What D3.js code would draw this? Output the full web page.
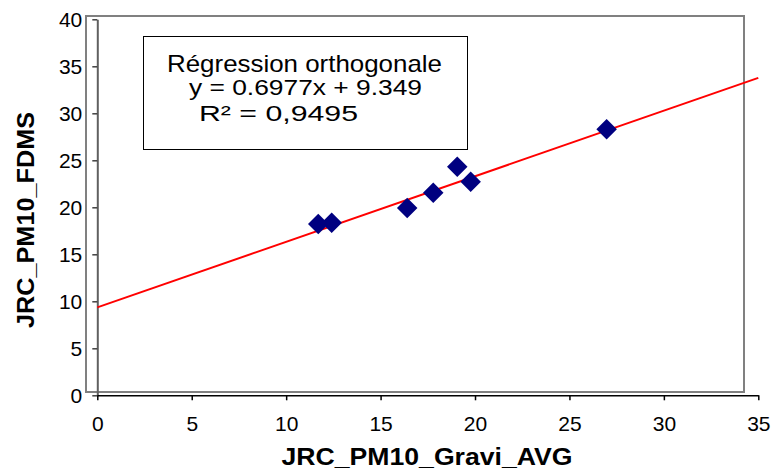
<!DOCTYPE html>
<html>
<head>
<meta charset="utf-8">
<script src="https://cdn.jsdelivr.net/npm/d3@7/dist/d3.min.js"></script>
<style>
  html, body { margin: 0; padding: 0; background: #fff; }
  svg { display: block; font-family: "Liberation Sans", Arial, sans-serif; }
</style>
</head>
<body>
<svg id="chart" width="775" height="474"></svg>
<script>
// Paired PM10 measurements: gravimetric average vs FDMS
const gravi = [11.70, 12.41, 16.41, 17.79, 19.06, 19.77, 26.97];
const fdms  = [18.22, 18.36, 19.93, 21.55, 24.32, 22.72, 28.30];

// Orthogonal regression fit
const slope = [0.6977];
const intercept = [9.349];
const r2Label = ["0,9495"];

const xTicks = [0, 5, 10, 15, 20, 25, 30, 35];
const yTicks = [0, 5, 10, 15, 20, 25, 30, 35, 40];

const svg = d3.select("#chart");

const x = d3.scaleLinear().domain([0, 35]).range([97.3, 758.3]);
const y = d3.scaleLinear().domain([0, 40]).range([395.3, 19.3]);

// plot-area frame
svg.append("rect")
  .attr("x", 86).attr("y", 16).attr("width", 658).attr("height", 376)
  .attr("fill", "#fff").attr("stroke", "#808080").attr("stroke-width", 2);

// axes
const gy = svg.append("g")
  .attr("transform", `translate(${x(0)},0)`)
  .call(d3.axisLeft(y).tickValues(yTicks).tickSize(5).tickSizeOuter(0).tickPadding(10));
gy.select(".domain").attr("stroke", "#606060").attr("stroke-width", 2);
gy.selectAll(".tick line").attr("stroke", "#404040").attr("stroke-width", 1.5);
gy.selectAll(".tick text").attr("font-size", 21).attr("fill", "#000")
  .attr("font-family", "Liberation Sans, Arial, sans-serif");

const gx = svg.append("g")
  .attr("transform", `translate(0,${y(0)})`)
  .call(d3.axisBottom(x).tickValues(xTicks).tickSize(5).tickSizeOuter(0).tickPadding(16));
gx.select(".domain").attr("stroke", "#000").attr("stroke-width", 1.5);
gx.selectAll(".tick line").attr("stroke", "#000").attr("stroke-width", 1.5);
gx.selectAll(".tick text").attr("font-size", 21).attr("fill", "#000")
  .attr("font-family", "Liberation Sans, Arial, sans-serif");

// regression line across the full x range
const fit = v => slope[0] * v + intercept[0];
svg.append("line")
  .attr("x1", x(0)).attr("y1", y(fit(0)))
  .attr("x2", x(35)).attr("y2", y(fit(35)))
  .attr("stroke", "#ff0000").attr("stroke-width", 2);

// data points as diamonds
const diamond = d3.symbol().type(d3.symbolSquare).size(210);
svg.append("g").selectAll("path")
  .data(d3.zip(gravi, fdms))
  .join("path")
  .attr("d", diamond)
  .attr("transform", d => `translate(${x(d[0])},${y(d[1])}) rotate(45)`)
  .attr("fill", "#000080");

// equation box
svg.append("rect")
  .attr("x", 143.5).attr("y", 36.5).attr("width", 324).attr("height", 113)
  .attr("fill", "#fff").attr("stroke", "#000").attr("stroke-width", 1);

const box = svg.append("g").attr("fill", "#000");
box.append("text").attr("x", 167).attr("y", 72).attr("font-size", 24)
  .attr("textLength", 275).attr("lengthAdjust", "spacingAndGlyphs")
  .text("Régression orthogonale");
box.append("text").attr("x", 189).attr("y", 95).attr("font-size", 22)
  .attr("textLength", 233).attr("lengthAdjust", "spacingAndGlyphs")
  .text(`y = ${slope[0]}x + ${intercept[0]}`);
box.append("text").attr("x", 199).attr("y", 121).attr("font-size", 22)
  .attr("textLength", 159).attr("lengthAdjust", "spacingAndGlyphs")
  .text(`R² = ${r2Label[0]}`);

// axis titles
svg.append("text")
  .attr("x", 427).attr("y", 465).attr("text-anchor", "middle")
  .attr("font-size", 24).attr("font-weight", "bold")
  .attr("textLength", 291).attr("lengthAdjust", "spacingAndGlyphs")
  .text("JRC_PM10_Gravi_AVG");

svg.append("text")
  .attr("transform", "translate(34,220) rotate(-90)")
  .attr("text-anchor", "middle")
  .attr("font-size", 24).attr("font-weight", "bold")
  .attr("textLength", 216).attr("lengthAdjust", "spacingAndGlyphs")
  .text("JRC_PM10_FDMS");
</script>
</body>
</html>
